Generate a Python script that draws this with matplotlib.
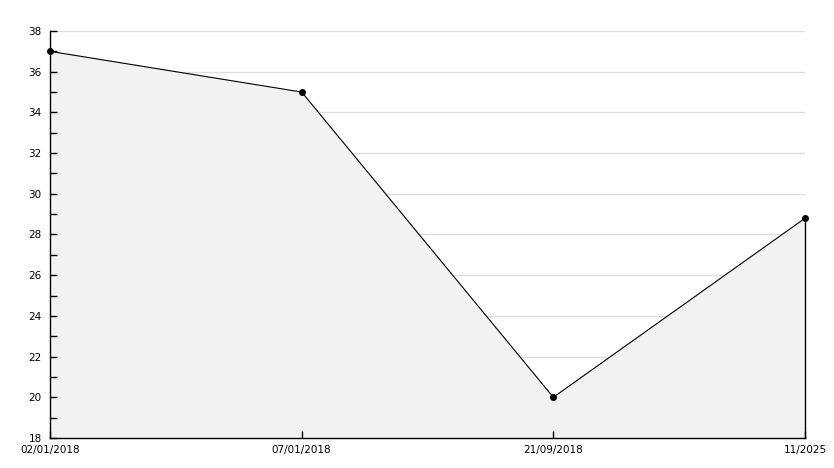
import matplotlib
matplotlib.use('Agg')
import matplotlib.pyplot as plt
import numpy as np

# Data
dates = ['02/01/2018', '07/01/2018', '21/09/2018', '11/2025']
values = [37.0, 35.0, 20.0, 28.8]

fig = plt.figure(figsize=(8.34, 4.68), dpi=100)
fig.patch.set_facecolor('white')
ax = fig.add_axes([50 / 834, 1 - 438 / 468, 755 / 834, 407 / 468])

x = np.arange(len(dates))
ymin, ymax = 18, 38
yticks = np.arange(ymin, ymax + 1, 2)

# Horizontal grid lines every 2 units, under the area
for yv in yticks[1:]:
    ax.axhline(yv, color='#dcdcdc', lw=0.9, zorder=0.5)

# Grey area under the line
ax.fill_between(x, values, ymin, color='#f2f2f2', zorder=1)
ax.plot([x[-1], x[-1]], [ymin, values[-1]], color='black', lw=1.0, zorder=2,
        clip_on=False)
ax.plot(x, values, color='black', lw=0.8, marker='o', markersize=4,
        markerfacecolor='black', markeredgecolor='black', zorder=3,
        clip_on=False)

ax.set_xlim(x[0], x[-1])
ax.set_ylim(ymin, ymax)

ax.set_yticks(yticks)
ax.set_yticks(np.arange(ymin, ymax + 1, 1), minor=True)

ax.set_xticks(x)
ax.set_xticklabels(dates)

for side in ['top', 'right']:
    ax.spines[side].set_visible(False)
for side in ['left', 'bottom']:
    ax.spines[side].set_color('black')
    ax.spines[side].set_linewidth(1.0)
    ax.spines[side].set_zorder(4)

ax.tick_params(axis='both', which='both', direction='in', color='black',
               labelsize=7.5, labelcolor='black')
ax.tick_params(axis='y', which='major', length=5, width=1, pad=6)
ax.tick_params(axis='y', which='minor', length=5, width=1)
ax.tick_params(axis='x', which='major', length=5, width=1, pad=5)

plt.savefig('out.png', dpi=100)
plt.close()
